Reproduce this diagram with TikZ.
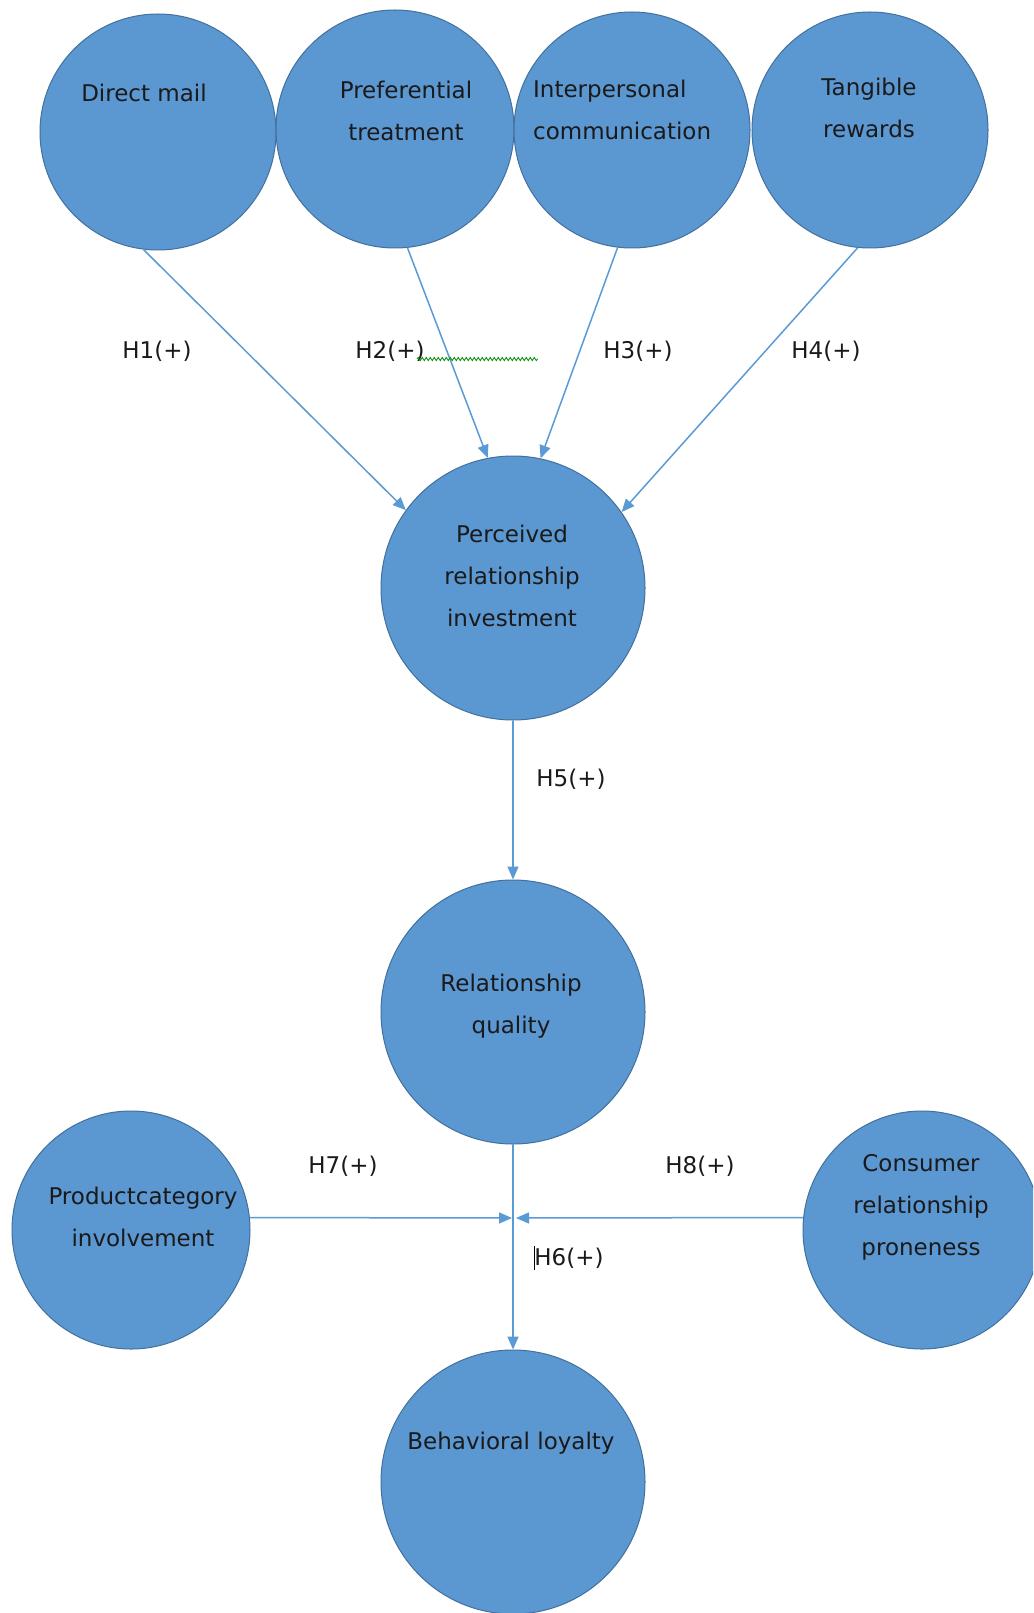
\documentclass[tikz,border=0pt]{standalone}
\usepackage{fontspec}
\setmainfont{DejaVu Sans}
\usetikzlibrary{arrows.meta,decorations.pathmorphing}
\definecolor{cfill}{HTML}{5B97D1}
\definecolor{cline}{HTML}{41719C}
\definecolor{aline}{HTML}{5B9BD5}
\definecolor{txt}{HTML}{1A1A1A}
\tikzset{
  bubble/.style={circle, fill=cfill, draw=cline, line width=1pt, inner sep=0pt, minimum size=#1},
  btext/.style={text=txt, font=\fontsize{23}{42}\selectfont, align=center, inner sep=0pt},
  hlabel/.style={text=txt, font=\fontsize{23}{27}\selectfont, inner sep=0pt},
  link/.style={draw=aline, line width=1.5pt, -{Triangle[length=13pt,width=11pt]}}
}
\begin{document}
\begin{tikzpicture}[x=1pt,y=-1pt]
\clip (0,0) rectangle (1033,1613);
\fill[white] (0,0) rectangle (1033,1613);
% circles
\node[bubble=236] (dm) at (158,132) {};
\node[bubble=238] (pt) at (395,129) {};
\node[bubble=236] (ic) at (632,130) {};
\node[bubble=236] (tr) at (870,130) {};
\node[bubble=264] (pri) at (513,588) {};
\node[bubble=264] (rq) at (513,1012) {};
\node[bubble=238] (pc) at (131,1230) {};
\node[bubble=238] (crp) at (922,1230) {};
\node[bubble=264] (bl) at (513,1482) {};
% texts
\node[btext] (dmt) at (144,93) {Direct mail};
\node[btext] (ptt) at (406,111) {Preferential\\treatment};
\node[btext, align=left, anchor=west] (ict) at (533,110) {Interpersonal\\communication};
\node[btext] (trt) at (869,108) {Tangible\\rewards};
\node[btext] (prit) at (512,576) {Perceived\\relationship\\investment};
\node[btext] (rqt) at (511,1006) {Relationship\\quality};
\node[btext] (pct) at (143,1217) {Productcategory\\involvement};
\node[btext] (crpt) at (921,1207) {Consumer\\relationship\\proneness};
\node[btext] (blt) at (511,1443) {Behavioral loyalty};
% meeting points
\coordinate (mL) at (512,1218);
\coordinate (mR) at (516,1218);
% connectors
\draw[link] (dm.263) -- (pri.144);
\draw[link] (pt.276) -- (pri.101);
\draw[link] (ic.263) -- (pri.78);
\draw[link] (tr.264) -- (pri.35);
\draw[link] (pri.south) -- (rq.north);
\draw[link] (rq.south) -- (bl.north);
\draw[link] (pc.6) -- (mL);
\draw[link] (crp.174) -- (mR);
% labels
\node[hlabel] (h1) at (157,351) {H1(+)};
\node[hlabel] (h2) at (390,351) {H2(+)};
\node[hlabel] (h3) at (638,351) {H3(+)};
\node[hlabel] (h4) at (826,351) {H4(+)};
\node[hlabel] (h5) at (571,779) {H5(+)};
\node[hlabel] (h7) at (343,1166) {H7(+)};
\node[hlabel] (h8) at (700,1166) {H8(+)};
\node[hlabel] (h6) at (569,1258) {H6(+)};
% spell-check squiggle and caret
\draw[green!55!black, line width=0.8pt, decorate, decoration={snake, amplitude=1.6pt, segment length=4pt}] (417,359) -- (538,359);
\draw[black, line width=1pt] (534,1246) -- (534,1270);
\end{tikzpicture}
\end{document}
